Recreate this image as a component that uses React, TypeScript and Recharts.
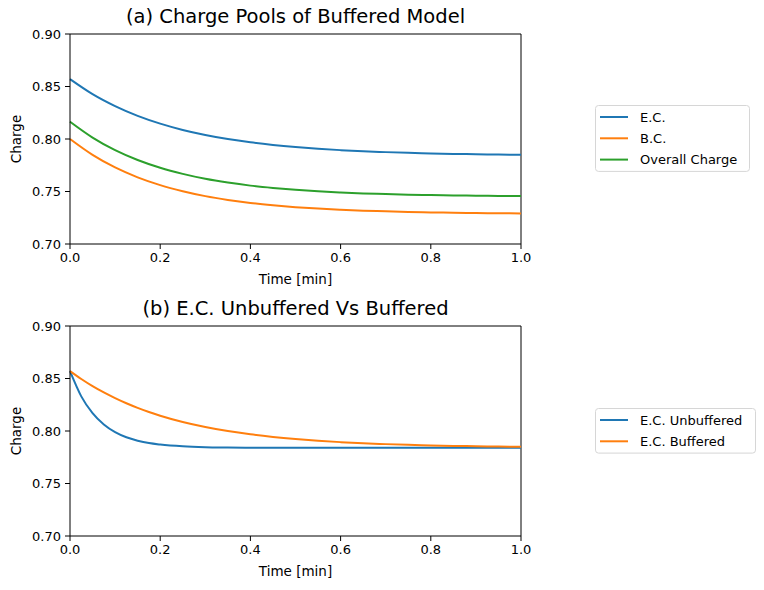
import { LineChart, Line, XAxis, YAxis, Legend, ReferenceLine } from "recharts"

// Time axis (minutes) for the charge pool plot
const TIME = [
  0, 0.05, 0.1, 0.15, 0.2, 0.25, 0.3, 0.35, 0.4, 0.45, 0.5, 0.55, 0.6, 0.65, 0.7, 0.75, 0.8, 0.85, 0.9,
  0.95, 1.0,
]
const EC = [
  0.857, 0.8427, 0.8313, 0.822, 0.8146, 0.8086, 0.8038, 0.7999, 0.7968, 0.7943, 0.7923, 0.7907, 0.7894,
  0.7883, 0.7875, 0.7868, 0.7863, 0.7858, 0.7855, 0.7852, 0.7849,
]
const BC = [
  0.8, 0.7849, 0.7729, 0.7635, 0.7561, 0.7503, 0.7456, 0.742, 0.7391, 0.7369, 0.7351, 0.7337, 0.7326,
  0.7317, 0.7311, 0.7305, 0.7301, 0.7298, 0.7295, 0.7293, 0.7291,
]
const OVERALL = [
  0.8165, 0.8014, 0.7894, 0.78, 0.7726, 0.7668, 0.7621, 0.7585, 0.7556, 0.7534, 0.7516, 0.7502, 0.7491,
  0.7482, 0.7476, 0.747, 0.7466, 0.7463, 0.746, 0.7458, 0.7456,
]

// Finer steps early on for the fast unbuffered decay
const TIME_B = [
  0, 0.025, 0.05, 0.075, 0.1, 0.125, 0.15, 0.175, 0.2, 0.25, 0.3, 0.35, 0.4, 0.45, 0.5, 0.55, 0.6, 0.65, 0.7,
  0.75, 0.8, 0.85, 0.9, 0.95, 1.0,
]
const EC_UNBUFFERED = [
  0.857, 0.833, 0.817, 0.8062, 0.7989, 0.794, 0.7908, 0.7885, 0.7871, 0.7854, 0.7846, 0.7843, 0.7841, 0.7841,
  0.784, 0.784, 0.784, 0.784, 0.784, 0.784, 0.784, 0.784, 0.784, 0.784, 0.784,
]
const EC_BUFFERED = [
  0.857, 0.8495, 0.8427, 0.8367, 0.8313, 0.8264, 0.822, 0.8181, 0.8146, 0.8086, 0.8038, 0.7999, 0.7968,
  0.7943, 0.7923, 0.7907, 0.7894, 0.7883, 0.7875, 0.7868, 0.7863, 0.7858, 0.7855, 0.7852, 0.7849,
]

const X_TICKS = [0, 0.2, 0.4, 0.6, 0.8, 1.0]
const Y_TICKS = [0.7, 0.75, 0.8, 0.85, 0.9]

const BLUE = "#1f77b4"
const ORANGE = "#ff7f0e"
const GREEN = "#2ca02c"
const FONT = "DejaVu Sans, sans-serif"

const poolRows = TIME.map((t, i) => ({ t, ec: EC[i], bc: BC[i], overall: OVERALL[i] }))
const compareRows = TIME_B.map((t, i) => ({ t, unbuf: EC_UNBUFFERED[i], buf: EC_BUFFERED[i] }))

type Entry = { label: string; color: string }

const BoxLegend = ({ items, width }: { items: Entry[]; width: number }) => {
  const rowH = 21.3
  const height = items.length * rowH + 2
  return (
    <svg width={width + 2} height={height + 2} style={{ display: "block" }}>
      <rect x={0.5} y={0.5} width={width} height={height} rx={3} fill="#fff" stroke="#d6d6d6" />
      {items.map((it, i) => {
        const y = 12 + i * rowH
        return (
          <g key={it.label}>
            <line x1={5} x2={33} y1={y} y2={y} stroke={it.color} strokeWidth={2} />
            <text x={45} y={y} dominantBaseline="central" fontSize={13} fontFamily={FONT} fill="#000">
              {it.label}
            </text>
          </g>
        )
      })}
    </svg>
  )
}

const YTitle = (props: any) => {
  const vb = props.viewBox || { y: 0, height: 0 }
  const cx = 16
  const cy = vb.y + vb.height / 2
  return (
    <text
      x={cx}
      y={cy}
      transform={`rotate(-90 ${cx} ${cy})`}
      textAnchor="middle"
      dominantBaseline="central"
      fontSize={13.5}
      fontFamily={FONT}
      fill="#000"
    >
      Charge
    </text>
  )
}

const tick = { fontSize: 13, fontFamily: FONT, fill: "#000" }

function Panel({
  title,
  top,
  marginTop,
  rows,
  series,
  legendTop,
  legendWidth,
}: {
  title: string
  top: number
  marginTop: number
  rows: any[]
  series: { key: string; label: string; color: string }[]
  legendTop: number
  legendWidth: number
}) {
  const height = marginTop + 210 + 42 + 10
  return (
    <div style={{ position: "absolute", left: 0, top, width: 764, height }}>
      <div
        style={{
          position: "absolute",
          left: 70,
          width: 451,
          top: marginTop - 29,
          textAlign: "center",
          fontFamily: FONT,
          fontSize: 19.5,
          lineHeight: "24px",
          color: "#000",
          whiteSpace: "nowrap",
        }}
      >
        {title}
      </div>
      <LineChart
        width={764}
        height={height}
        data={rows}
        margin={{ top: marginTop, right: 243, bottom: 10, left: 0 }}
      >
        <XAxis
          xAxisId="b"
          dataKey="t"
          type="number"
          domain={[0, 1]}
          ticks={X_TICKS}
          tickFormatter={(v: number) => v.toFixed(1)}
          height={42}
          tickSize={5}
          tickMargin={4}
          tick={tick}
          stroke="#000"
          label={{ value: "Time [min]", position: "insideBottom", offset: 2, fontSize: 13.5, fontFamily: FONT, fill: "#000" }}
        />
        <YAxis
          yAxisId="l"
          type="number"
          domain={[0.7, 0.9]}
          ticks={Y_TICKS}
          tickFormatter={(v: number) => v.toFixed(2)}
          width={70}
          tickSize={5}
          tickMargin={4}
          tick={tick}
          stroke="#000"
          allowDataOverflow
          label={<YTitle />}
        />
        {/* top and right frame edges */}
        <ReferenceLine xAxisId="b" yAxisId="l" y={0.9} stroke="#000" />
        <ReferenceLine xAxisId="b" yAxisId="l" x={1} stroke="#000" />
        {series.map((s) => (
          <Line
            key={s.key}
            xAxisId="b"
            yAxisId="l"
            type="monotone"
            dataKey={s.key}
            name={s.label}
            stroke={s.color}
            strokeWidth={2}
            dot={false}
            isAnimationActive={false}
          />
        ))}
        <Legend
          layout="horizontal"
          verticalAlign="middle"
          wrapperStyle={{ position: "absolute", left: 595, top: legendTop - top, width: legendWidth + 4 }}
          content={() => <BoxLegend items={series} width={legendWidth} />}
        />
      </LineChart>
    </div>
  )
}

export default function App() {
  return (
    <div style={{ position: "absolute", left: 0, top: 0, width: 764, height: 590, background: "#fff" }}>
      <Panel
        title="(a) Charge Pools of Buffered Model"
        top={0}
        marginTop={34}
        rows={poolRows}
        series={[
          { key: "ec", label: "E.C.", color: BLUE },
          { key: "bc", label: "B.C.", color: ORANGE },
          { key: "overall", label: "Overall Charge", color: GREEN },
        ]}
        legendTop={105}
        legendWidth={154}
      />
      <Panel
        title="(b) E.C. Unbuffered Vs Buffered"
        top={290}
        marginTop={36}
        rows={compareRows}
        series={[
          { key: "unbuf", label: "E.C. Unbuffered", color: BLUE },
          { key: "buf", label: "E.C. Buffered", color: ORANGE },
        ]}
        legendTop={408}
        legendWidth={160}
      />
    </div>
  )
}
